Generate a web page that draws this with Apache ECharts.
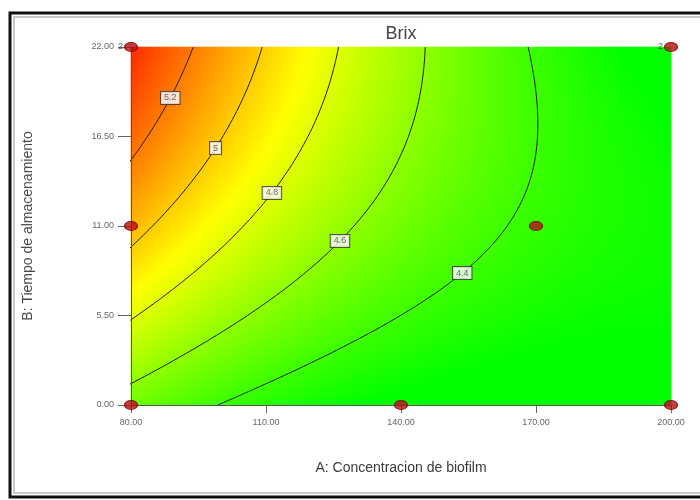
<!DOCTYPE html>
<html>
<head>
<meta charset="utf-8">
<script src="https://cdn.jsdelivr.net/npm/echarts@6/dist/echarts.min.js"></script>
<style>
  html, body { margin: 0; padding: 0; background: #fff; }
  #chart { width: 700px; height: 500px; }
</style>
</head>
<body>
<div id="chart"></div>
<script>
// Factor ranges in actual units
const factorA = [80, 200];   // A: Concentracion de biofilm
const factorB = [0, 22];     // B: Tiempo de almacenamiento
const tickA = [80, 110, 140, 170, 200];
const tickB = [0, 5.5, 11, 16.5, 22];

// Quadratic model for Brix in coded factors (-1 .. +1)
const modelTerms = ['Intercept', 'A', 'B', 'AB', 'A^2', 'B^2'];
const modelCoef = [4.529, -0.383, 0.214, -0.220, 0.140, -0.090];

// Contour levels and the B value where each level's tag sits on its line
const contourLevels = [5.2, 5.0, 4.8, 4.6, 4.4];
const labelAtB = [18.87, 15.79, 13.03, 10.08, 8.11];

// Design points (actual units) and replicate counts
const designA = [80, 80, 80, 140, 170, 200, 200];
const designB = [0, 11, 22, 0, 11, 0, 22];
const designReps = [1, 1, 2, 1, 1, 1, 2];

// Colour scale span of the response
const colorRange = [4.25, 5.5];

// ---------------------------------------------------------------
const midA = (factorA[0] + factorA[1]) / 2, halfA = (factorA[1] - factorA[0]) / 2;
const midB = (factorB[0] + factorB[1]) / 2, halfB = (factorB[1] - factorB[0]) / 2;
const toA = a => midA + halfA * a;
const toB = b => midB + halfB * b;
const codeB = v => (v - midB) / halfB;

function brix(a, b) {
  const c = modelCoef;
  return c[0] + c[1] * a + c[2] * b + c[3] * a * b + c[4] * a * a + c[5] * b * b;
}

// Solve the model for coded A at a given coded B and response level
function solveA(b, level) {
  const c = modelCoef;
  const qa = c[4], qb = c[1] + c[3] * b, qc = c[0] + c[2] * b + c[5] * b * b - level;
  if (Math.abs(qa) < 1e-12) return [-qc / qb];
  const d = qb * qb - 4 * qa * qc;
  if (d < 0) return [];
  const s = Math.sqrt(d);
  return [(-qb - s) / (2 * qa), (-qb + s) / (2 * qa)];
}

// Response surface sampled on a cell grid for the colour field
const NX = 180, NY = 179;
const cellX = [], cellY = [], surface = [];
for (let i = 0; i < NX; i++) cellX.push(String(i));
for (let j = 0; j < NY; j++) cellY.push(String(j));
for (let i = 0; i < NX; i++) {
  const a = -1 + (i + 0.5) * 2 / NX;
  for (let j = 0; j < NY; j++) {
    const b = -1 + (j + 0.5) * 2 / NY;
    surface.push([i, j, brix(a, b)]);
  }
}

// Contour polylines, one per level
const contourSeries = contourLevels.map(level => {
  const pts = [];
  const steps = 400;
  for (let k = 0; k <= steps; k++) {
    const b = -1 + 2 * k / steps;
    const roots = solveA(b, level).filter(a => a >= -1.2 && a <= 1.2);
    if (roots.length) pts.push([toA(roots[0]), toB(b)]);
  }
  return {
    type: 'line', xAxisIndex: 1, yAxisIndex: 1, data: pts,
    showSymbol: false, symbol: 'none', clip: true, silent: true, z: 5,
    lineStyle: { color: '#1c1c1c', width: 1 }
  };
});

// Level tags placed on their lines
const tagData = contourLevels.map((level, k) => {
  const b = codeB(labelAtB[k]);
  const a = solveA(b, level).filter(v => v >= -1.2 && v <= 1.2)[0];
  return [toA(a), labelAtB[k], level];
});

const designData = designA.map((a, k) => [a, designB[k], designReps[k]]);

const chart = echarts.init(document.getElementById('chart'), null, { renderer: 'canvas' });
const gridBox = { left: 131, top: 47, width: 540, height: 358, containLabel: false };
const tickFont = { fontSize: 9, color: '#666', fontFamily: 'Liberation Sans' };

chart.setOption({
  animation: false,
  backgroundColor: '#fff',
  grid: [Object.assign({}, gridBox), Object.assign({}, gridBox)],
  visualMap: {
    show: false, type: 'continuous', seriesIndex: 0, dimension: 2,
    min: colorRange[0], max: colorRange[1],
    inRange: { color: ['#00ff00', '#ffff00', '#ff0000'] }
  },
  xAxis: [
    { type: 'category', gridIndex: 0, data: cellX, show: false },
    {
      type: 'value', gridIndex: 1, min: factorA[0], max: factorA[1], z: 10,
      name: 'A: Concentracion de biofilm', nameLocation: 'middle', nameGap: 56,
      nameTextStyle: { fontSize: 14, color: '#3a3a3a', fontFamily: 'Liberation Sans' },
      axisLine: { show: true, lineStyle: { color: '#555', width: 1 } },
      axisTick: { show: true, length: 8, customValues: tickA, lineStyle: { color: '#666' } },
      axisLabel: Object.assign({ margin: 13, customValues: tickA, formatter: v => Number(v).toFixed(2) }, tickFont),
      splitLine: { show: false }
    }
  ],
  yAxis: [
    { type: 'category', gridIndex: 0, data: cellY, show: false },
    {
      type: 'value', gridIndex: 1, min: factorB[0], max: factorB[1], z: 10,
      name: 'B: Tiempo de almacenamiento', nameLocation: 'middle', nameGap: 96,
      nameTextStyle: { fontSize: 14, color: '#4a4a4a', fontFamily: 'Liberation Sans' },
      axisLine: { show: true, lineStyle: { color: '#555', width: 1 } },
      axisTick: { show: true, length: 13, customValues: tickB, lineStyle: { color: '#666' } },
      axisLabel: Object.assign({ margin: 17, customValues: tickB, formatter: v => Number(v).toFixed(2) }, tickFont),
      splitLine: { show: false }
    }
  ],
  graphic: [
    {
      type: 'text', x: 401, y: 34, silent: true,
      style: { text: 'Brix', fontSize: 18, fontFamily: 'Liberation Sans', fill: '#444',
               align: 'center', verticalAlign: 'middle' }
    },
    {
      type: 'rect', silent: true, z: 100,
      shape: { x: 10, y: 13, width: 700, height: 484 },
      style: { fill: 'none', stroke: '#111', lineWidth: 3 }
    },
    {
      type: 'rect', silent: true, z: 100,
      shape: { x: 14, y: 17, width: 700, height: 476 },
      style: { fill: 'none', stroke: '#c8c8c8', lineWidth: 2 }
    }
  ],
  series: [
    {
      type: 'heatmap', xAxisIndex: 0, yAxisIndex: 0, data: surface,
      progressive: 0, silent: true, z: 1,
      itemStyle: { borderWidth: 0 }, emphasis: { disabled: true }
    },
    ...contourSeries,
    {
      type: 'scatter', xAxisIndex: 1, yAxisIndex: 1, data: tagData,
      symbolSize: 1, itemStyle: { color: 'rgba(0,0,0,0)' }, silent: true, z: 8,
      label: {
        show: true, position: 'inside',
        formatter: p => String(Number(p.value[2].toFixed(1))),
        fontSize: 9, color: '#4a3a6a', fontFamily: 'Liberation Sans',
        backgroundColor: '#fff', borderColor: '#333', borderWidth: 1, padding: [2, 3, 1, 3]
      }
    },
    {
      type: 'scatter', xAxisIndex: 1, yAxisIndex: 1, data: designData,
      symbol: 'circle', symbolSize: [13, 9], clip: false, silent: true, z: 20,
      itemStyle: { color: '#b80c0c', borderColor: '#700000', borderWidth: 1 },
      label: {
        show: true, position: 'left', distance: 1,
        formatter: p => (p.value[2] > 1 ? String(p.value[2]) : ''),
        fontSize: 9, color: '#333', fontFamily: 'Liberation Sans'
      }
    }
  ]
});
</script>
</body>
</html>
